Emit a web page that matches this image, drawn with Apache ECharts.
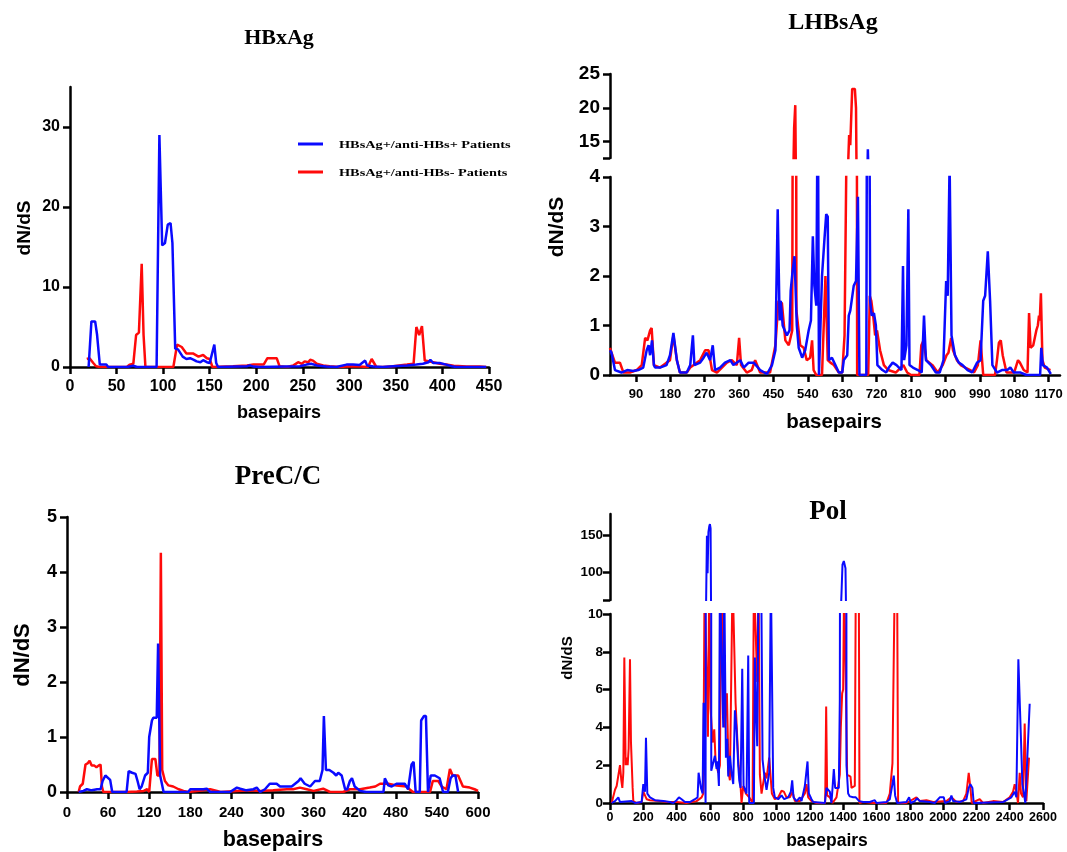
<!DOCTYPE html>
<html>
<head>
<meta charset="utf-8">
<script src="https://cdn.jsdelivr.net/npm/echarts@6/dist/echarts.min.js"></script>
<style>
  html, body { margin: 0; padding: 0; background: #fff; }
  #chart { width: 1067px; height: 852px; }
</style>
</head>
<body>
<div id="chart"></div>
<script>
var chartDom = document.getElementById('chart');
var myChart = echarts.init(chartDom);
var option;

var nameBlue = 'HBsAg+/anti-HBs+ Patients';
var nameRed = 'HBsAg+/anti-HBs- Patients';
var blue = '#0a0aff';
var red = '#ff0a0a';

// HBxAg  [basepair, dN/dS]
var hbxRed = [[18,1.0],[21,1.1],[25,0.5],[28,0.1],[32,0],[61,0],[64,0.3],[68,0.4],[71,4.0],[74,4.3],[77,12.9],[79,4],[81,0],[111,0],[115,2.8],[117,3.0],[120,2.5],[125,1.7],[129,1.7],[132,1.7],[138,1.3],[143,1.5],[147,1.1],[150,1.0],[153,0],[175,0.1],[190,0.2],[197,0.3],[208,0.3],[212,1.1],[222,1.1],[225,0.1],[233,0],[240,0.2],[245,0.6],[249,0.4],[252,0.7],[256,0.6],[258,0.9],[261,0.8],[265,0.4],[272,0.2],[279,0.1],[290,0],[300,0.1],[311,0.05],[320,0],[324,1.0],[326,1.0],[329,0],[336,0],[347,0.1],[362,0.3],[369,0.4],[372,5.0],[375,4.0],[378,5.1],[381,0.8],[390,0.6],[397,0.4],[404,0.3],[412,0.15],[426,0.05],[440,0.05],[447,0]];
var hbxBlue = [[20,0],[23,5.7],[27,5.7],[29,4.1],[32,0.3],[39,0.3],[41,0],[61,0],[68,0.15],[72,0],[93,0],[96,29],[99,15.2],[102,15.5],[105,17.8],[108,18],[110,15.5],[113,2.3],[116,2.2],[121,1.3],[125,1.0],[129,1.1],[133,0.9],[136,0.7],[140,0.6],[143,0.85],[147,0.6],[150,0.5],[155,2.8],[157,0.5],[159,0],[190,0.1],[193,0.2],[197,0.05],[204,0],[247,0.1],[254,0.3],[259,0.4],[265,0.2],[275,0.05],[286,0],[297,0.3],[304,0.3],[311,0.25],[317,0.8],[319,0.2],[326,0.05],[336,0],[347,0.1],[362,0.2],[372,0.3],[379,0.4],[385,0.6],[387,0.9],[390,0.5],[397,0.5],[404,0.3],[410,0.1],[415,0],[447,0]];

// LHBsAg
var lhbRed = [[22,0.55],[26,0.45],[35,0.25],[48,0.25],[57,0.05],[74,0.05],[92,0.1],[105,0.2],[114,0.75],[120,0.7],[127,0.9],[131,0.95],[137,0.2],[153,0.15],[170,0.25],[179,0.3],[188,0.8],[197,0.3],[205,0.05],[223,0.05],[232,0.15],[241,0.2],[258,0.3],[271,0.5],[280,0.5],[289,0.1],[302,0.05],[315,0.15],[328,0.25],[341,0.3],[354,0.2],[360,0.75],[365,0.2],[380,0.05],[393,0.1],[402,0.3],[415,0.05],[441,0.05],[455,0.6],[463,1.5],[472,1.45],[481,0.7],[490,0.6],[499,0.9],[504,17],[507,20.4],[510,1.3],[520,0.6],[529,0.55],[537,0.3],[546,0.35],[551,0.7],[555,0.1],[562,0],[577,0],[586,2.0],[592,0.3],[599,0.25],[608,0.2],[621,0.05],[630,0.05],[636,0.8],[641,4.5],[648,16],[651,14.5],[656,22.8],[663,22.8],[666,20],[669,0],[698,0],[702,1.6],[706,1.5],[711,1.2],[716,0.8],[721,0.9],[729,0.5],[739,0.2],[750,0.1],[770,0.05],[790,0.2],[800,0.05],[810,0],[832,0],[837,0.6],[843,0.7],[850,0.3],[866,0.2],[880,0.05],[893,0.2],[903,0.4],[908,0.45],[915,0.75],[920,0.5],[930,0.3],[940,0.2],[952,0.15],[965,0.1],[975,0.05],[985,0.2],[992,0.7],[996,0.7],[999,0],[1030,0],[1035,0.3],[1040,0.65],[1045,0.7],[1050,0.4],[1055,0.4],[1060,0.05],[1080,0.05],[1090,0.3],[1095,0.25],[1105,0.1],[1115,0.05],[1119,1.25],[1123,0.55],[1130,0.6],[1138,0.9],[1142,1.0],[1145,1.2],[1147,1.1],[1150,1.65],[1154,0.3],[1160,0.15],[1175,0.1]];
var lhbBlue = [[22,0.5],[26,0.45],[35,0.1],[52,0.05],[67,0.1],[83,0.08],[96,0.1],[109,0.15],[118,0.5],[123,0.6],[127,0.4],[132,0.7],[137,0.2],[140,0.15],[153,0.15],[170,0.2],[179,0.4],[188,0.85],[197,0.3],[205,0.05],[223,0.05],[232,0.2],[239,0.8],[243,0.2],[258,0.25],[267,0.35],[275,0.45],[284,0.3],[291,0.6],[297,0.1],[310,0.15],[323,0.25],[337,0.3],[345,0.2],[363,0.3],[372,0.15],[385,0.25],[398,0.25],[415,0.1],[433,0.02],[446,0.2],[455,0.5],[461,3.35],[466,1.1],[469,1.5],[474,1.0],[485,0.8],[492,0.9],[495,1.7],[500,2.1],[505,2.4],[511,1.0],[516,0.55],[525,0.35],[533,0.5],[542,0.9],[548,1.1],[553,2.8],[557,1.8],[562,1.4],[566,6],[569,0],[573,0],[577,2.0],[583,2.7],[588,3.25],[592,3.2],[595,0.3],[603,0.35],[612,0.2],[621,0.05],[630,0.05],[634,0.3],[643,0.4],[647,1.2],[651,1.3],[660,1.8],[666,1.9],[671,3.6],[675,0],[693,0],[697,13.9],[700,13.9],[703,1.5],[707,1.2],[713,1.25],[718,1.0],[722,0.2],[735,0.1],[745,0.05],[752,0.15],[762,0.25],[772,0.2],[785,0.1],[789,2.2],[792,0.3],[798,0.6],[803,3.35],[806,0.2],[815,0.15],[828,0.1],[838,0.05],[844,1.2],[849,0.3],[862,0.2],[875,0.05],[885,0.05],[895,0.3],[902,1.9],[906,1.6],[911,4.3],[916,0.8],[925,0.4],[935,0.25],[945,0.2],[958,0.1],[970,0.05],[983,0.25],[992,0.3],[999,1.5],[1004,1.6],[1011,2.5],[1017,1.5],[1023,0.2],[1035,0.05],[1048,0.1],[1062,0.1],[1070,0.15],[1079,0.05],[1097,0.05],[1112,0],[1148,0],[1151,0.55],[1155,0.2],[1166,0.15],[1176,0.02]];

// PreC/C
var preRed = [[17,0],[19,0.1],[23,0.15],[27,0.5],[30,0.52],[33,0.57],[36,0.48],[40,0.48],[43,0.45],[46,0.48],[49,0.5],[51,0.1],[53,0],[87,0],[102,0.01],[112,0.02],[117,0.05],[120,0],[124,0.6],[129,0.6],[132,0.3],[135,0.3],[137,4.35],[139,0.4],[143,0.2],[148,0.12],[155,0.1],[163,0.05],[170,0.02],[177,0],[199,0.03],[209,0.05],[219,0.02],[224,0],[248,0.02],[267,0.03],[282,0.02],[301,0.03],[321,0.05],[330,0.05],[340,0.08],[350,0.05],[360,0.02],[374,0.06],[384,0],[403,0],[413,0.05],[428,0.05],[442,0.08],[450,0.1],[457,0.15],[469,0.15],[481,0.12],[496,0.1],[500,0.05],[505,0],[530,0],[534,0.2],[542,0.2],[547,0.1],[554,0.05],[559,0.42],[563,0.3],[571,0.3],[578,0.1],[588,0.08],[595,0.05],[600,0.02]];
var preBlue = [[17,0],[24,0.02],[29,0.05],[36,0.03],[44,0.05],[49,0.05],[52,0.2],[56,0.3],[58,0.28],[63,0.22],[66,0],[87,0],[90,0.38],[95,0.35],[100,0.33],[103,0.2],[106,0.05],[109,0.1],[114,0.3],[118,0.35],[120,1.0],[124,1.3],[126,1.35],[131,1.35],[133,2.7],[135,2.7],[136,0.3],[141,0],[177,0],[180,0.05],[194,0.05],[199,0.05],[204,0.06],[209,0],[238,0],[248,0.08],[253,0.06],[262,0.03],[272,0.05],[277,0.08],[282,0],[289,0.05],[296,0.15],[306,0.15],[311,0.1],[321,0.1],[328,0.1],[338,0.2],[341,0.25],[347,0.15],[355,0.1],[362,0.2],[369,0.2],[373,0.4],[375,1.38],[378,0.4],[383,0.4],[389,0.35],[393,0.3],[396,0.35],[401,0.3],[406,0.05],[409,0.05],[413,0.2],[416,0.25],[420,0.1],[428,0.02],[437,0],[462,0],[464,0.25],[469,0.12],[474,0.1],[481,0.15],[493,0.15],[498,0.05],[503,0.5],[506,0.55],[509,0],[515,0],[517,1.3],[521,1.38],[524,1.38],[527,0],[531,0.3],[537,0.3],[544,0.25],[549,0],[556,0],[560,0.25],[563,0.3],[567,0.3],[571,0]];

// Pol
var polRed = [[10,0],[30,0.7],[40,0.9],[50,0.9],[60,2.0],[68,1.2],[74,0.8],[80,1.6],[86,7.7],[94,2.0],[100,2.4],[106,2.0],[112,2.9],[120,7.6],[126,3.2],[132,3.2],[136,0.8],[140,0.1],[160,0],[190,0.05],[200,0.6],[210,0.5],[220,0.2],[240,0.15],[300,0.1],[340,0.05],[400,0.05],[460,0],[520,0.1],[550,0.3],[560,0.5],[568,12],[580,12],[588,3.5],[596,12],[604,5],[616,3.2],[626,3.9],[634,2.2],[650,1.6],[660,2.0],[668,12],[680,12],[690,4],[696,5.5],[702,5.8],[712,1.6],[720,1.2],[730,1.2],[736,12],[744,12],[754,5.3],[764,5.3],[772,2.0],[780,1.5],[790,0],[800,0.9],[816,0.5],[836,0.3],[856,0],[864,12],[874,12],[884,6.4],[892,12],[900,1.5],[910,0.5],[930,1.6],[940,1.3],[956,2.4],[964,2.4],[972,0.5],[990,0.2],[1010,0.3],[1030,0.65],[1044,0.6],[1060,0.3],[1080,0.3],[1096,0.6],[1110,0.1],[1140,0.1],[1170,0.5],[1180,1.0],[1190,0.3],[1210,0.1],[1240,0],[1292,0],[1298,5.1],[1304,0.4],[1320,0.3],[1336,0],[1360,0.3],[1380,1.5],[1386,4.0],[1394,5.8],[1400,6.0],[1406,12],[1416,12],[1424,1.5],[1436,1.5],[1444,1.4],[1450,0.8],[1460,0.9],[1470,0.9],[1476,12],[1494,12],[1498,0],[1520,0.05],[1580,0],[1660,0],[1680,0.5],[1696,2.1],[1704,2.2],[1710,12],[1724,12],[1730,0],[1780,0],[1840,0.3],[1860,0.1],[1900,0.15],[1940,0.05],[2020,0.1],[2050,0.3],[2080,0.05],[2120,0.1],[2140,0.5],[2154,1.6],[2164,0.8],[2172,0],[2220,0.2],[2240,0],[2300,0.1],[2360,0.05],[2400,0.3],[2420,0.6],[2430,1.0],[2440,0.6],[2450,0],[2460,1.6],[2468,0.5],[2480,0.3],[2490,4.2],[2500,0.1],[2510,0.1],[2516,2.4]];
var polBlue = [[10,0],[30,0.1],[50,0.3],[60,0.05],[130,0.1],[140,0.2],[150,0],[190,0.05],[200,1.0],[210,0.6],[216,3.45],[224,0.5],[240,0.3],[270,0.15],[320,0.1],[360,0.05],[380,0],[400,0.15],[414,0.3],[430,0.2],[450,0.05],[480,0.05],[510,0.2],[526,0.3],[532,1.6],[540,1.5],[546,0.8],[552,0.9],[556,0.5],[562,5.3],[568,5.3],[574,0],[582,150],[586,98],[591,155],[596,163],[600,166],[604,160],[608,1.7],[620,1.6],[630,2.5],[640,1.8],[646,2.2],[654,0.9],[660,12],[670,12],[680,4],[686,12],[696,2.4],[704,3.4],[710,1.4],[720,2.5],[730,1.6],[740,1.0],[750,4.9],[760,3.9],[770,2.0],[776,1.2],[784,0.8],[794,7.1],[802,0.9],[810,0.8],[820,0.5],[830,7.8],[836,0],[864,0],[870,7.7],[876,5.2],[884,3.0],[892,12],[900,12],[908,12],[916,2.3],[926,1.5],[940,0.7],[956,1.6],[966,12],[974,12],[980,0.8],[990,0.3],[1010,0.2],[1030,0.4],[1046,0.2],[1070,0.3],[1086,0.6],[1094,1.2],[1102,0.3],[1120,0.1],[1140,0.3],[1150,0.1],[1170,0.9],[1180,0.8],[1186,2.2],[1194,0.5],[1210,0.2],[1220,0.05],[1290,0],[1300,0.8],[1310,0.7],[1320,0.6],[1330,0],[1344,1.8],[1352,0.8],[1364,0.9],[1374,0.8],[1380,5.5],[1390,70],[1396,110],[1404,115],[1414,105],[1420,2.0],[1430,0.5],[1440,0.35],[1460,0.3],[1476,0.3],[1484,0.4],[1496,0.1],[1520,0.05],[1560,0.05],[1590,0.15],[1600,0],[1660,0.05],[1680,0.2],[1696,1.0],[1704,1.45],[1712,0.4],[1724,0],[1780,0.05],[1796,0.3],[1806,0],[1830,0.1],[1844,0.25],[1860,0.1],[1920,0.05],[1950,0],[1980,0.3],[2004,0.3],[2012,0],[2040,0.1],[2050,0.4],[2060,0.1],[2100,0.05],[2140,0.2],[2154,0.8],[2164,1.0],[2176,0.8],[2184,0],[2360,0.05],[2410,0.3],[2430,0.6],[2440,0.3],[2452,7.6],[2460,7.6],[2468,3.3],[2476,1.0],[2484,0.6],[2494,0],[2504,0],[2520,5.25]];

// tick labels
var lhbXTicks = [90,180,270,360,450,540,630,720,810,900,990,1080,1170];

var SANS = '"Liberation Sans", Arial, sans-serif';
var SERIF = '"Liberation Serif", "Times New Roman", serif';

function axLine() {
  return { show: true, onZero: false, lineStyle: { color: '#000', width: 2.5 } };
}
function axTick(vals) {
  var t = { show: true, length: 7, lineStyle: { color: '#000', width: 2.5 } };
  if (vals) t.customValues = vals;
  return t;
}
function axLabel(size, margin, vals) {
  var l = {
    color: '#000', fontFamily: SANS, fontWeight: 'bold', fontSize: size, margin: margin,
    formatter: function (v) { return String(v); }
  };
  if (vals) l.customValues = vals;
  return l;
}
function xAx(grid, min, max, interval, size, margin, vals) {
  var a = {
    type: 'value', gridIndex: grid, min: min, max: max,
    axisLine: axLine(), axisTick: axTick(vals), axisLabel: axLabel(size, margin, vals),
    splitLine: { show: false }
  };
  if (interval) a.interval = interval;
  return a;
}
function yAx(grid, min, max, interval, size, margin, labelVals, tickVals) {
  var a = {
    type: 'value', gridIndex: grid, min: min, max: max,
    axisLine: axLine(), axisTick: axTick(tickVals || labelVals), axisLabel: axLabel(size, margin, labelVals),
    splitLine: { show: false }
  };
  if (interval) a.interval = interval;
  return a;
}
function hiddenX(grid, min, max) {
  return { type: 'value', gridIndex: grid, min: min, max: max, show: false, splitLine: { show: false } };
}
function lineSeries(name, color, data, axis, width) {
  return {
    type: 'line', name: name, xAxisIndex: axis, yAxisIndex: axis,
    data: data, showSymbol: false, symbol: 'none', clip: true,
    lineStyle: { color: color, width: width }, itemStyle: { color: color },
    animation: false
  };
}
function label(text, x, y, font, rot) {
  return {
    type: 'text', x: x, y: y, rotation: rot || 0,
    style: { text: text, font: font, fill: '#000', align: 'center', verticalAlign: 'middle' }
  };
}

option = {
  backgroundColor: '#fff',
  animation: false,
  grid: [
    { left: 70, top: 87, width: 419, height: 280, outerBoundsMode: 'none' },
    { left: 610, top: 74, width: 450, height: 84, outerBoundsMode: 'none' },
    { left: 610, top: 177, width: 450, height: 198, outerBoundsMode: 'none' },
    { left: 67, top: 517, width: 411, height: 275, outerBoundsMode: 'none' },
    { left: 610, top: 514, width: 433, height: 86, outerBoundsMode: 'none' },
    { left: 610, top: 614, width: 433, height: 189, outerBoundsMode: 'none' }
  ],
  xAxis: [
    xAx(0, 0, 450, 50, 16, 12),
    hiddenX(1, 22, 1200),
    xAx(2, 22, 1200, null, 13, 13, lhbXTicks),
    xAx(3, 0, 600, 60, 15, 13),
    hiddenX(4, 0, 2600),
    xAx(5, 0, 2600, 200, 12.5, 8)
  ],
  yAxis: [
    yAx(0, 0, 35, null, 16, 10, [0, 10, 20, 30]),
    yAx(1, 12.6, 25, null, 19, 10, [15, 20, 25], [12.6, 15, 20, 25]),
    yAx(2, 0, 4, 1, 19, 10),
    yAx(3, 0, 5, 1, 18, 10),
    yAx(4, 61, 180, null, 13.5, 7, [100, 150], [61, 100, 150]),
    yAx(5, 0, 10, 2, 13.5, 7)
  ],
  series: [
    lineSeries(nameRed, red, hbxRed, 0, 2.5),
    lineSeries(nameBlue, blue, hbxBlue, 0, 2.5),
    lineSeries(nameRed, red, lhbRed, 1, 2.5),
    lineSeries(nameBlue, blue, lhbBlue, 1, 2.5),
    lineSeries(nameRed, red, lhbRed, 2, 2.5),
    lineSeries(nameBlue, blue, lhbBlue, 2, 2.5),
    lineSeries(nameRed, red, preRed, 3, 2.5),
    lineSeries(nameBlue, blue, preBlue, 3, 2.5),
    lineSeries(nameRed, red, polRed, 4, 2),
    lineSeries(nameBlue, blue, polBlue, 4, 2),
    lineSeries(nameRed, red, polRed, 5, 2),
    lineSeries(nameBlue, blue, polBlue, 5, 2)
  ],
  graphic: [
    label('HBxAg', 279, 38, 'bold 22px ' + SERIF),
    label('LHBsAg', 833, 23, 'bold 24px ' + SERIF),
    label('PreC/C', 278, 477, 'bold 27px ' + SERIF),
    label('Pol', 828, 512, 'bold 27px ' + SERIF),
    label('dN/dS', 25, 228, 'bold 19px ' + SANS, Math.PI / 2),
    label('dN/dS', 557, 227, 'bold 21px ' + SANS, Math.PI / 2),
    label('dN/dS', 23, 655, 'bold 22px ' + SANS, Math.PI / 2),
    label('dN/dS', 568, 658, 'bold 15px ' + SANS, Math.PI / 2),
    label('basepairs', 279, 413, 'bold 18px ' + SANS),
    label('basepairs', 834, 422, 'bold 20.5px ' + SANS),
    label('basepairs', 273, 840, 'bold 21.5px ' + SANS),
    label('basepairs', 827, 841, 'bold 17.5px ' + SANS),
    // legend
    { type: 'line', shape: { x1: 298, y1: 144, x2: 323, y2: 144 }, style: { stroke: blue, lineWidth: 3 } },
    { type: 'line', shape: { x1: 298, y1: 172, x2: 323, y2: 172 }, style: { stroke: red, lineWidth: 3 } },
    { type: 'text', x: 339, y: 145, scaleX: 1.3,
      style: { text: nameBlue, font: 'bold 11px ' + SERIF, fill: '#000', align: 'left', verticalAlign: 'middle' } },
    { type: 'text', x: 339, y: 173, scaleX: 1.3,
      style: { text: nameRed, font: 'bold 11px ' + SERIF, fill: '#000', align: 'left', verticalAlign: 'middle' } }
  ]
};

option && myChart.setOption(option);
</script>
</body>
</html>
